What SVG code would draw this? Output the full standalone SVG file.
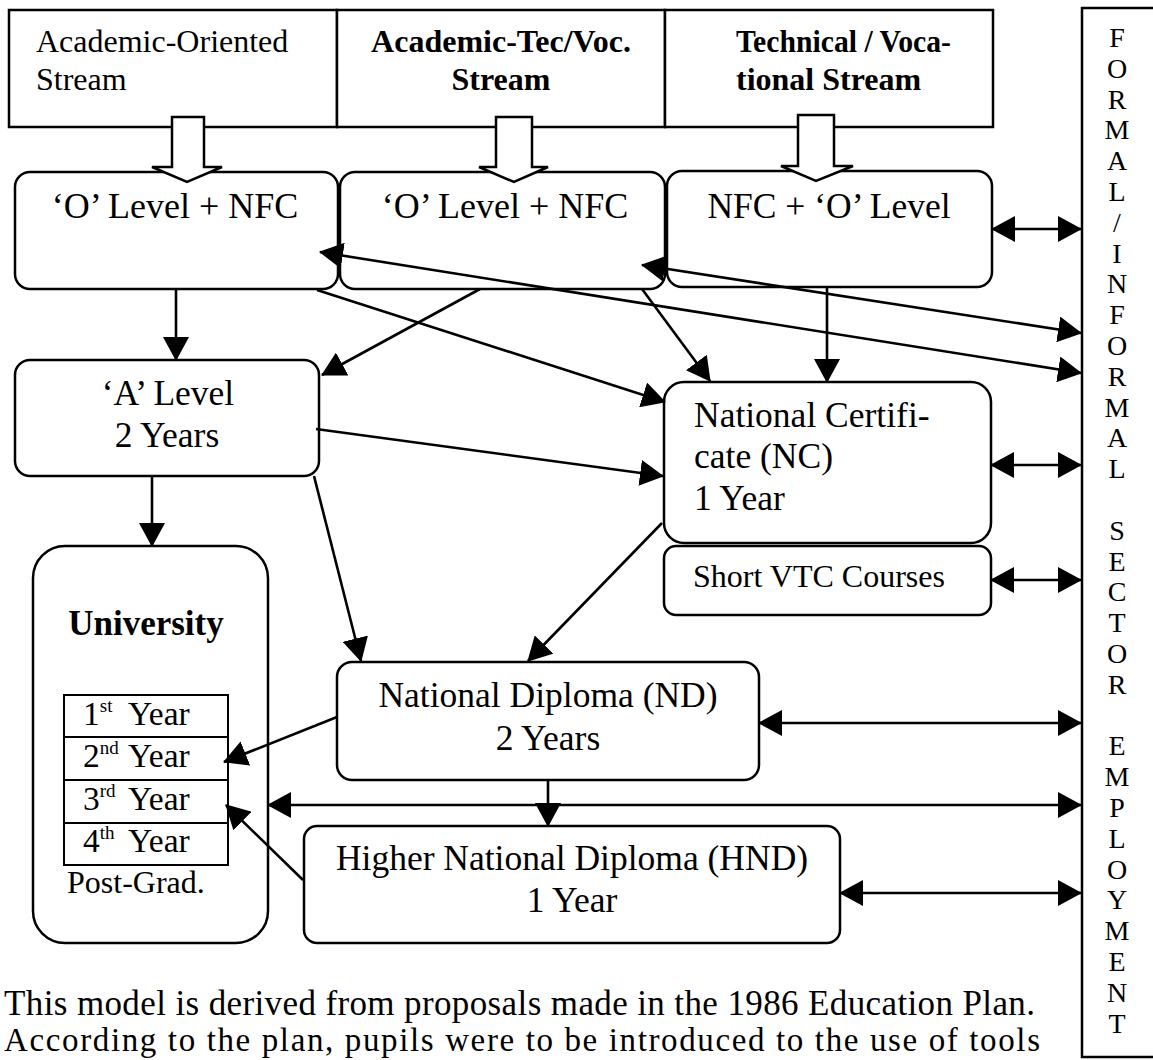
<svg xmlns="http://www.w3.org/2000/svg" width="1153" height="1060" viewBox="0 0 1153 1060">
<style>
  .box{fill:#fff;stroke:#000;stroke-width:2.5}
  .t{font-family:"Liberation Serif","Times New Roman",serif;fill:#000}
  .c{text-anchor:middle}
  .b{font-weight:bold}
  .ln{stroke:#000;stroke-width:2.6;fill:none}
  .blk{fill:#fff;stroke:#000;stroke-width:2.5;stroke-linejoin:miter}
</style>
<defs>
  <marker id="ah" markerUnits="userSpaceOnUse" markerWidth="24" markerHeight="26" viewBox="0 0 24 26" refX="23" refY="13" orient="auto-start-reverse">
    <path d="M0,0 L24,13 L0,26 z" fill="#000"/>
  </marker>
</defs>
<rect width="1153" height="1060" fill="#fff"/>

<!-- stream boxes -->
<g id="stream-academic">
  <rect class="box" x="9" y="10" width="328" height="117" stroke-width="2.2"/>
  <text class="t" x="36" y="52" font-size="32">Academic-Oriented</text>
  <text class="t" x="36" y="90" font-size="32">Stream</text>
</g>
<g id="stream-acadtec">
  <rect class="box" x="337" y="10" width="328" height="117" stroke-width="2.2"/>
  <text class="t c b" x="501" y="52" font-size="32">Academic-Tec/Voc.</text>
  <text class="t c b" x="501" y="90" font-size="32">Stream</text>
</g>
<g id="stream-tech">
  <rect class="box" x="665" y="10" width="328" height="117" stroke-width="2.2"/>
  <text class="t b" x="736" y="52" font-size="32" textLength="215" lengthAdjust="spacingAndGlyphs">Technical / Voca-</text>
  <text class="t b" x="736" y="90" font-size="32">tional Stream</text>
</g>

<!-- O level boxes -->
<g id="olevel-1">
  <rect class="box" x="15" y="172" width="323" height="117" rx="15"/>
  <text class="t c" x="175" y="218" font-size="36">‘O’ Level + NFC</text>
</g>
<g id="olevel-2">
  <rect class="box" x="340" y="172" width="325" height="117" rx="15"/>
  <text class="t c" x="505" y="218" font-size="36">‘O’ Level + NFC</text>
</g>
<g id="olevel-3">
  <rect class="box" x="667" y="171" width="325" height="116" rx="15"/>
  <text class="t c" x="829" y="218" font-size="35.5">NFC + ‘O’ Level</text>
</g>

<!-- block arrows -->
<g id="block-arrows">
  <path class="blk" d="M172,117 H204 V167 H222 L187,182 L152,167 H172 Z"/>
  <path class="blk" d="M496,117 H532 V167 H548 L514,182 L479,167 H496 Z"/>
  <path class="blk" d="M798,115 H834 V166 H853 L816,181 L781,166 H798 Z"/>
</g>

<g id="alevel">
  <rect class="box" x="15" y="360" width="304" height="116" rx="15"/>
  <text class="t c" x="168" y="405" font-size="35.5">‘A’ Level</text>
  <text class="t c" x="167" y="447" font-size="35.5">2 Years</text>
</g>

<g id="nc">
  <rect class="box" x="664" y="382" width="327" height="161" rx="20"/>
  <text class="t" x="694" y="427" font-size="35.5">National Certifi-</text>
  <text class="t" x="694" y="468" font-size="35.5">cate (NC)</text>
  <text class="t" x="694" y="510" font-size="35.5">1 Year</text>
</g>

<g id="short-vtc">
  <rect class="box" x="664" y="546" width="327" height="69" rx="12"/>
  <text class="t c" x="819" y="587" font-size="32">Short VTC Courses</text>
</g>

<g id="university">
  <rect class="box" x="33" y="546" width="235" height="397" rx="32"/>
  <text class="t c b" x="146" y="635" font-size="35">University</text>
  <rect x="64" y="695" width="164" height="170" fill="none" stroke="#000" stroke-width="2"/>
  <line x1="64" y1="737" x2="228" y2="737" stroke="#000" stroke-width="2"/>
  <line x1="64" y1="780" x2="228" y2="780" stroke="#000" stroke-width="2"/>
  <line x1="64" y1="823" x2="228" y2="823" stroke="#000" stroke-width="2"/>
  <text class="t" x="83" y="725" font-size="33.5">1<tspan font-size="19" dy="-13">st</tspan><tspan x="128" dy="13">Year</tspan></text>
  <text class="t" x="83" y="767" font-size="33.5">2<tspan font-size="19" dy="-13">nd</tspan><tspan x="128" dy="13">Year</tspan></text>
  <text class="t" x="83" y="810" font-size="33.5">3<tspan font-size="19" dy="-13">rd</tspan><tspan x="128" dy="13">Year</tspan></text>
  <text class="t" x="83" y="852" font-size="33.5">4<tspan font-size="19" dy="-13">th</tspan><tspan x="128" dy="13">Year</tspan></text>
  <text class="t" x="67" y="893" font-size="32">Post-Grad.</text>
</g>

<g id="nd">
  <rect class="box" x="337" y="662" width="422" height="118" rx="15"/>
  <text class="t c" x="548" y="707" font-size="35.5">National Diploma (ND)</text>
  <text class="t c" x="548" y="750" font-size="35.5">2 Years</text>
</g>

<g id="hnd">
  <rect class="box" x="304" y="826" width="536" height="117" rx="13"/>
  <text class="t c" x="572" y="870" font-size="35.5">Higher National Diploma (HND)</text>
  <text class="t c" x="572" y="912" font-size="35.5">1 Year</text>
</g>

<g id="employment">
  <rect class="box" x="1082" y="8" width="100" height="1049"/>
  <g class="t c" font-size="28">
    <text x="1117" y="47">F</text>
    <text x="1117" y="78">O</text>
    <text x="1117" y="109">R</text>
    <text x="1117" y="139">M</text>
    <text x="1117" y="170">A</text>
    <text x="1117" y="201">L</text>
    <text x="1117" y="232">/</text>
    <text x="1117" y="263">I</text>
    <text x="1117" y="293">N</text>
    <text x="1117" y="324">F</text>
    <text x="1117" y="355">O</text>
    <text x="1117" y="386">R</text>
    <text x="1117" y="417">M</text>
    <text x="1117" y="447">A</text>
    <text x="1117" y="478">L</text>
    <text x="1117" y="540">S</text>
    <text x="1117" y="571">E</text>
    <text x="1117" y="601">C</text>
    <text x="1117" y="632">T</text>
    <text x="1117" y="663">O</text>
    <text x="1117" y="694">R</text>
    <text x="1117" y="755">E</text>
    <text x="1117" y="786">M</text>
    <text x="1117" y="817">P</text>
    <text x="1117" y="848">L</text>
    <text x="1117" y="879">O</text>
    <text x="1117" y="909">Y</text>
    <text x="1117" y="940">M</text>
    <text x="1117" y="971">E</text>
    <text x="1117" y="1002">N</text>
    <text x="1117" y="1033">T</text>
  </g>
</g>

<g id="connectors">
  <line class="ln" x1="176" y1="289" x2="176" y2="360" marker-end="url(#ah)"/>
  <line class="ln" x1="152" y1="476" x2="152" y2="546" marker-end="url(#ah)"/>
  <line class="ln" x1="827" y1="287" x2="827" y2="382" marker-end="url(#ah)"/>
  <line class="ln" x1="548" y1="780" x2="548" y2="826" marker-end="url(#ah)"/>
  <line class="ln" x1="317" y1="290" x2="665" y2="402" marker-end="url(#ah)"/>
  <line class="ln" x1="480" y1="289" x2="322" y2="375" marker-end="url(#ah)"/>
  <line class="ln" x1="642" y1="289" x2="710" y2="381" marker-end="url(#ah)"/>
  <line class="ln" x1="316" y1="429" x2="663" y2="476" marker-end="url(#ah)"/>
  <line class="ln" x1="314" y1="476" x2="361" y2="661" marker-end="url(#ah)"/>
  <line class="ln" x1="662" y1="523" x2="528" y2="661" marker-end="url(#ah)"/>
  <line class="ln" x1="337" y1="717" x2="224" y2="762" marker-end="url(#ah)"/>
  <line class="ln" x1="303" y1="880" x2="226" y2="805" marker-end="url(#ah)"/>
  <line class="ln" x1="320" y1="252" x2="1081" y2="373" marker-start="url(#ah)" marker-end="url(#ah)"/>
  <line class="ln" x1="642" y1="265" x2="1081" y2="333" marker-start="url(#ah)" marker-end="url(#ah)"/>
  <line class="ln" x1="992" y1="229" x2="1081" y2="229" marker-start="url(#ah)" marker-end="url(#ah)"/>
  <line class="ln" x1="991" y1="465" x2="1081" y2="465" marker-start="url(#ah)" marker-end="url(#ah)"/>
  <line class="ln" x1="991" y1="580" x2="1081" y2="580" marker-start="url(#ah)" marker-end="url(#ah)"/>
  <line class="ln" x1="759" y1="723" x2="1081" y2="723" marker-start="url(#ah)" marker-end="url(#ah)"/>
  <line class="ln" x1="268" y1="805" x2="1081" y2="805" marker-start="url(#ah)" marker-end="url(#ah)"/>
  <line class="ln" x1="840" y1="893" x2="1081" y2="893" marker-start="url(#ah)" marker-end="url(#ah)"/>
</g>

<g id="caption">
  <text class="t" x="4" y="1015" font-size="35" textLength="1031" lengthAdjust="spacing">This model is derived from proposals made in the 1986 Education Plan.</text>
  <text class="t" x="4" y="1051" font-size="33" textLength="1036" lengthAdjust="spacing">According to the plan, pupils were to be introduced to the use of tools</text>
</g>
</svg>
